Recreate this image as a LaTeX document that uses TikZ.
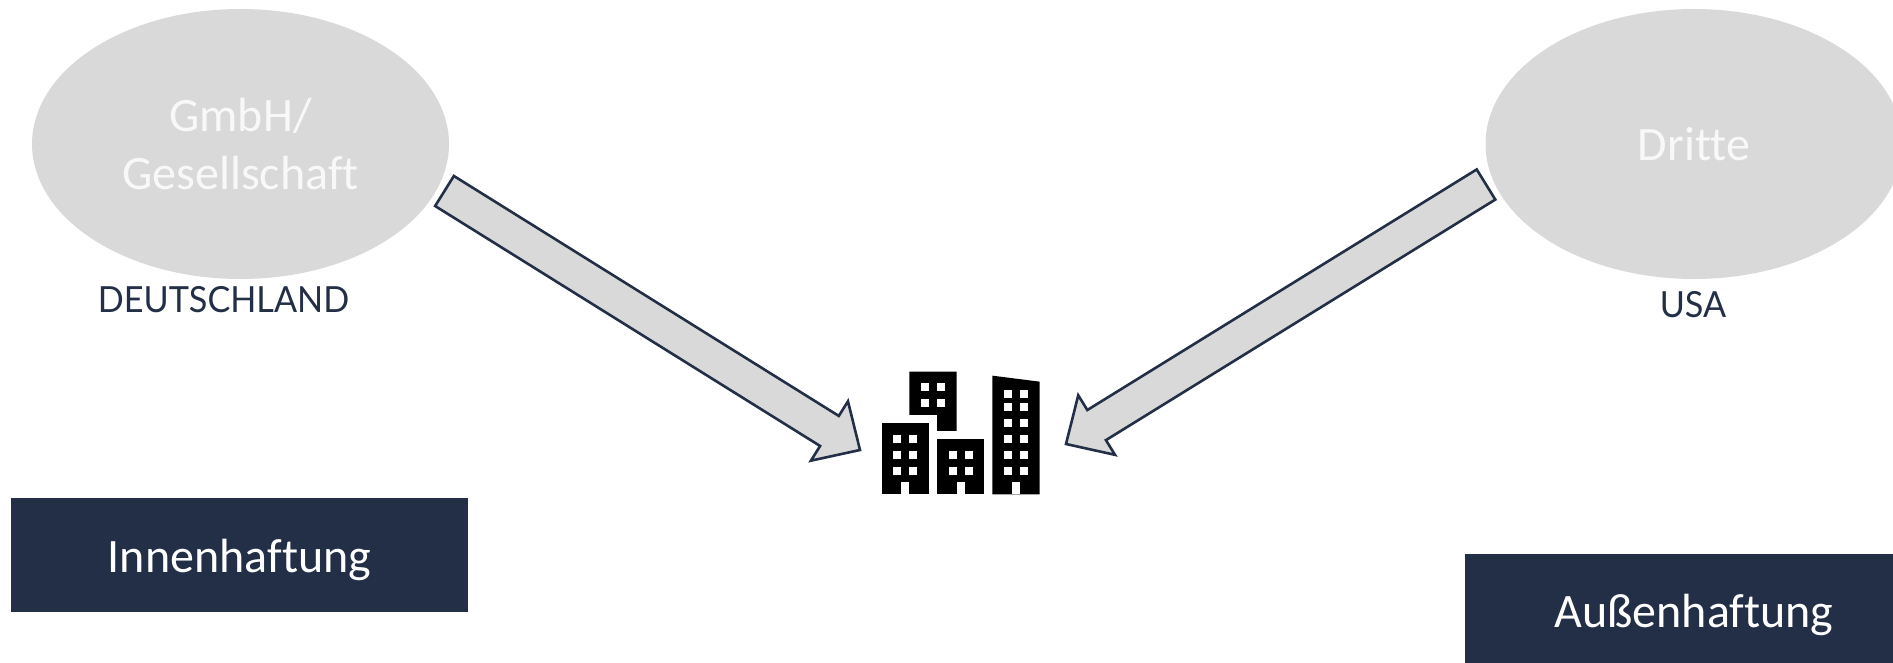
\documentclass[tikz,border=0pt]{standalone}
\usepackage{fontspec}
\setmainfont[Ligatures=NoCommon]{Carlito}
\newfontfamily\labelfont[FakeStretch=0.95]{Lato}
\usetikzlibrary{shapes.geometric,calc}
\definecolor{navy}{HTML}{222F46}
\definecolor{lightgrey}{HTML}{D9D9D9}
\definecolor{softwhite}{HTML}{F8F8F8}
\tikzset{
  party/.style={ellipse,fill=lightgrey,text=softwhite,inner sep=0pt,minimum width=417pt,minimum height=270pt,align=center,font=\fontsize{48}{58}\selectfont},
  liability/.style={rectangle,fill=navy,inner sep=0pt},
  caption/.style={anchor=base,text=white,inner sep=0pt,font=\fontsize{48}{56}\selectfont},
  country/.style={anchor=base,text=navy,inner sep=0pt,font=\labelfont\fontsize{36}{42}\selectfont},
  blockarrow/.style={fill=lightgrey,draw=navy,line width=2.6pt,line join=miter},
  tower/.style={fill=black,draw=none},
  pane/.style={fill=white,draw=none}
}
\newcommand{\blockarrowdraw}[2]{%
  \coordinate (h) at ($(#2)!36pt!(#1)$);
  \draw[blockarrow]
    ($(#1)!17.7pt!90:(#2)$) -- ($(h)!17.7pt!90:(#2)$) -- ($(h)!35pt!90:(#2)$) -- (#2)
    -- ($(h)!35pt!-90:(#2)$) -- ($(h)!17.7pt!-90:(#2)$) -- ($(#1)!17.7pt!-90:(#2)$) -- cycle;
}
\newcommand{\panes}[2]{\foreach \px in {#1}{\foreach \py in {#2}{\fill[pane] (\px,\py) rectangle ++(24,24);}}}
\begin{document}
\begin{tikzpicture}[x=1pt,y=-1pt]
\useasboundingbox (0,0) rectangle (1893,663);
\node[party] (gmbh) at (240.5,144) {GmbH/\\Gesellschaft};
\node[party] (dritte) at (1694,144) {\raisebox{-3pt}{Dritte}};
\node[country] (de) at (223.5,312) {DEUTSCHLAND};
\node[country] (usa) at (1693,317) {USA};
\node[liability,minimum width=457pt,minimum height=114pt] (innen) at (239.5,555) {};
\node[caption] (innentext) at (239.5,572) {Innenhaftung};
\node[liability,minimum width=428pt,minimum height=109pt] (aussen) at (1679,608.5) {};
\node[caption] (aussentext) at (1694,627) {Außenhaftung};
\coordinate (ltail) at (444.5,191);
\coordinate (ltip) at (860,450);
\coordinate (rtail) at (1486,184.5);
\coordinate (rtip) at (1066,444);
\blockarrowdraw{ltail}{ltip}
\blockarrowdraw{rtail}{rtip}
\begin{scope}[shift={(850,350)},x=0.3333pt,y=-0.3333pt]
  \fill[tower] (178,65) -- (320,65) -- (320,243) -- (261,243) -- (261,195) -- (178,195) -- cycle;
  \panes{213,261}{100,148}
  \fill[tower] (95,220) rectangle (237,433);
  \panes{130,178}{255,303,350}
  \fill[pane] (154,397) rectangle (178,433);
  \fill[tower] (261,267) rectangle (403,433);
  \panes{296,344}{303,350}
  \fill[pane] (320,397) rectangle (344,433);
  \fill[tower] (427,77) -- (569,95) -- (569,433) -- (427,433) -- cycle;
  \panes{462,510}{119,160,208,255,303,350}
  \fill[pane] (486,397) rectangle (510,433);
\end{scope}
\end{tikzpicture}
\end{document}
